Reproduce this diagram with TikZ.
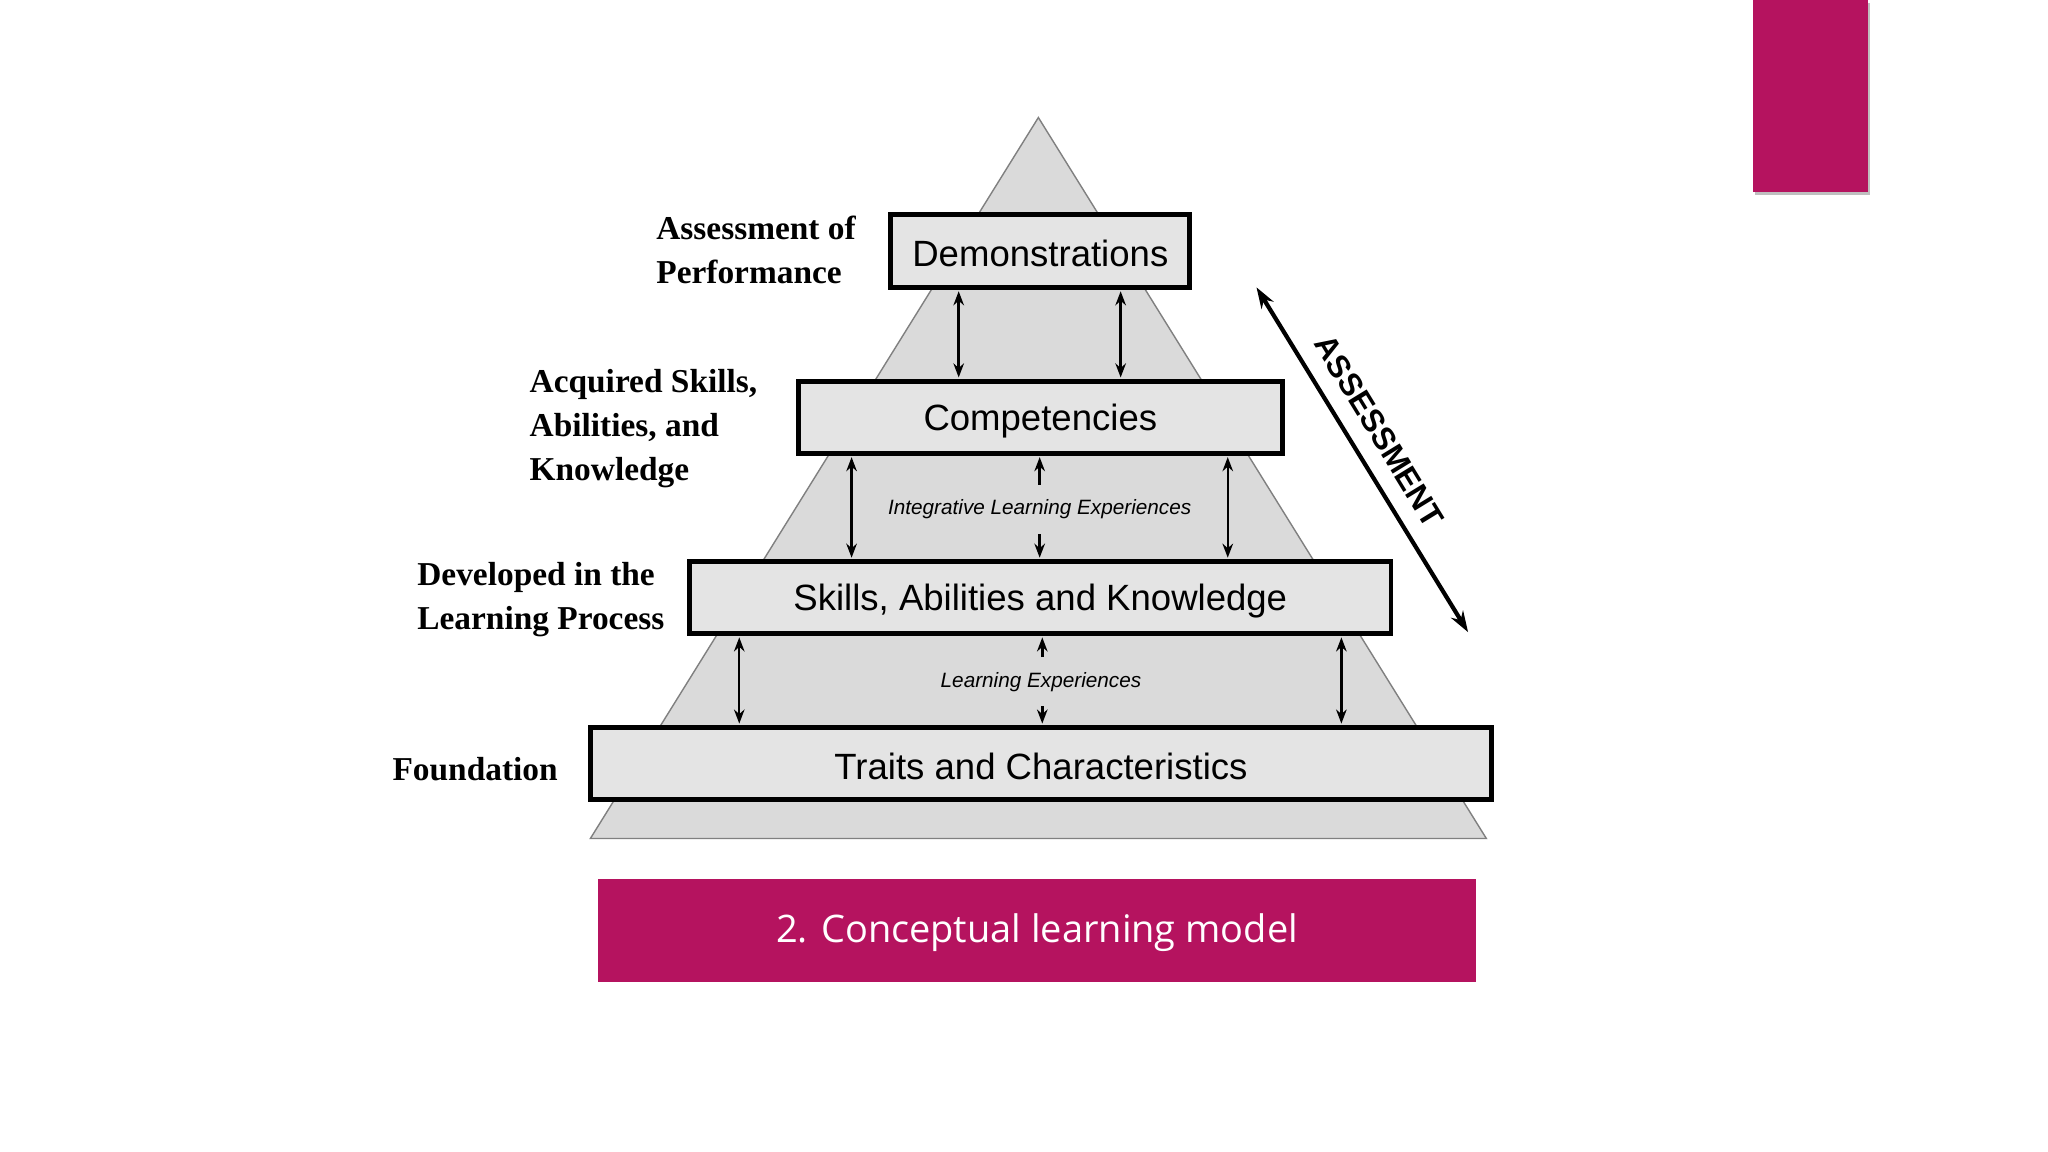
\documentclass[tikz,border=0pt]{standalone}
\usepackage{fontspec}
\setmainfont{Liberation Serif}
\newfontfamily\arialf{Liberation Sans}
\newfontfamily\openf{Open Sans}
\usetikzlibrary{arrows.meta}
\definecolor{mag}{HTML}{B5135F}
\definecolor{boxg}{HTML}{E4E4E4}
\definecolor{trig}{HTML}{DADADA}
\begin{document}
\begin{tikzpicture}[x=0.013061cm,y=-0.013061cm,
 lvl/.style={draw=black,line width=1.4pt,fill=boxg},
 lbl/.style={font=\arialf\fontsize{10.4}{13}\selectfont},
 side/.style={font=\bfseries\fontsize{9.5}{12.5}\selectfont,align=left,anchor=north west,inner sep=0},
 small/.style={font=\arialf\itshape\fontsize{5.9}{7}\selectfont},
 dar/.style={{Stealth[length=4pt,width=3pt]}-{Stealth[length=4pt,width=3pt]},line width=0.7pt},
 sar/.style={-{Stealth[length=4pt,width=3pt]},line width=0.7pt}]
\useasboundingbox (0,0) rectangle (1568,882);
\fill[white] (0,0) rectangle (1568,882);
\fill[black!25] (1344,2) rectangle (1432,149);
\fill[mag] (1342,0) rectangle (1430,147);
\draw[gray,fill=trig] (795,90) -- (1138,642) -- (452,642) -- cycle;
\draw[lvl] (682,164) rectangle (911,220); \node[lbl] (dem) at (796.5,194) {Demonstrations};
\draw[lvl] (611,292) rectangle (982,347); \node[lbl] (com) at (796.5,322) {Competencies};
\draw[lvl] (528,430) rectangle (1065,485); \node[lbl] (ski) at (796.5,460) {Skills, Abilities and Knowledge};
\draw[lvl] (452,557) rectangle (1142,612); \node[lbl] (tra) at (797,587) {Traits and Characteristics};
\coordinate (a1) at (734,223); \coordinate (a2) at (734,289);
\coordinate (b1) at (858,223); \coordinate (b2) at (858,289);
\draw[dar] (a1) -- (a2); \draw[dar] (b1) -- (b2);
\coordinate (c1) at (652,350); \coordinate (c2) at (652,427);
\coordinate (d1) at (940,350); \coordinate (d2) at (940,427);
\draw[dar] (c1) -- (c2); \draw[dar] (d1) -- (d2);
\node[small] (ile) at (796,390) {Integrative Learning Experiences};
\coordinate (e1) at (796,350); \coordinate (e2) at (796,427);
\draw[sar] (ile.north -| e1) ++(0,-2) -- (e1);
\draw[sar] (ile.south -| e2) ++(0,2) -- (e2);
\coordinate (f1) at (566,488); \coordinate (f2) at (566,554);
\coordinate (g1) at (1027,488); \coordinate (g2) at (1027,554);
\draw[dar] (f1) -- (f2); \draw[dar] (g1) -- (g2);
\node[small] (le) at (797,522) {Learning Experiences};
\coordinate (h1) at (798,488); \coordinate (h2) at (798,554);
\draw[sar] (le.north -| h1) ++(0,-2) -- (h1);
\draw[sar] (le.south -| h2) ++(0,2) -- (h2);
\node[side] (s1) at (502,165) {Assessment of\\Performance};
\node[side] (s2) at (405,282) {Acquired Skills,\\Abilities, and\\Knowledge};
\node[side] (s3) at (319,430) {Developed in the\\Learning Process};
\node[side] (s4) at (300,579) {Foundation};
\coordinate (p1) at (962,220); \coordinate (p2) at (1124,484);
\draw[{Stealth[length=6pt,width=4pt]}-{Stealth[length=6pt,width=4pt]},line width=1.2pt] (p1) -- (p2);
\node[font=\arialf\bfseries\fontsize{9}{10}\selectfont,rotate=-58.5] (as) at (1056,330) {ASSESSMENT};
\fill[mag] (458,673) rectangle (1130,752);
\node[font=\openf\fontsize{10.8}{13}\selectfont,text=white] (cap) at (794,714) {2. Conceptual learning model};
\end{tikzpicture}
\end{document}
